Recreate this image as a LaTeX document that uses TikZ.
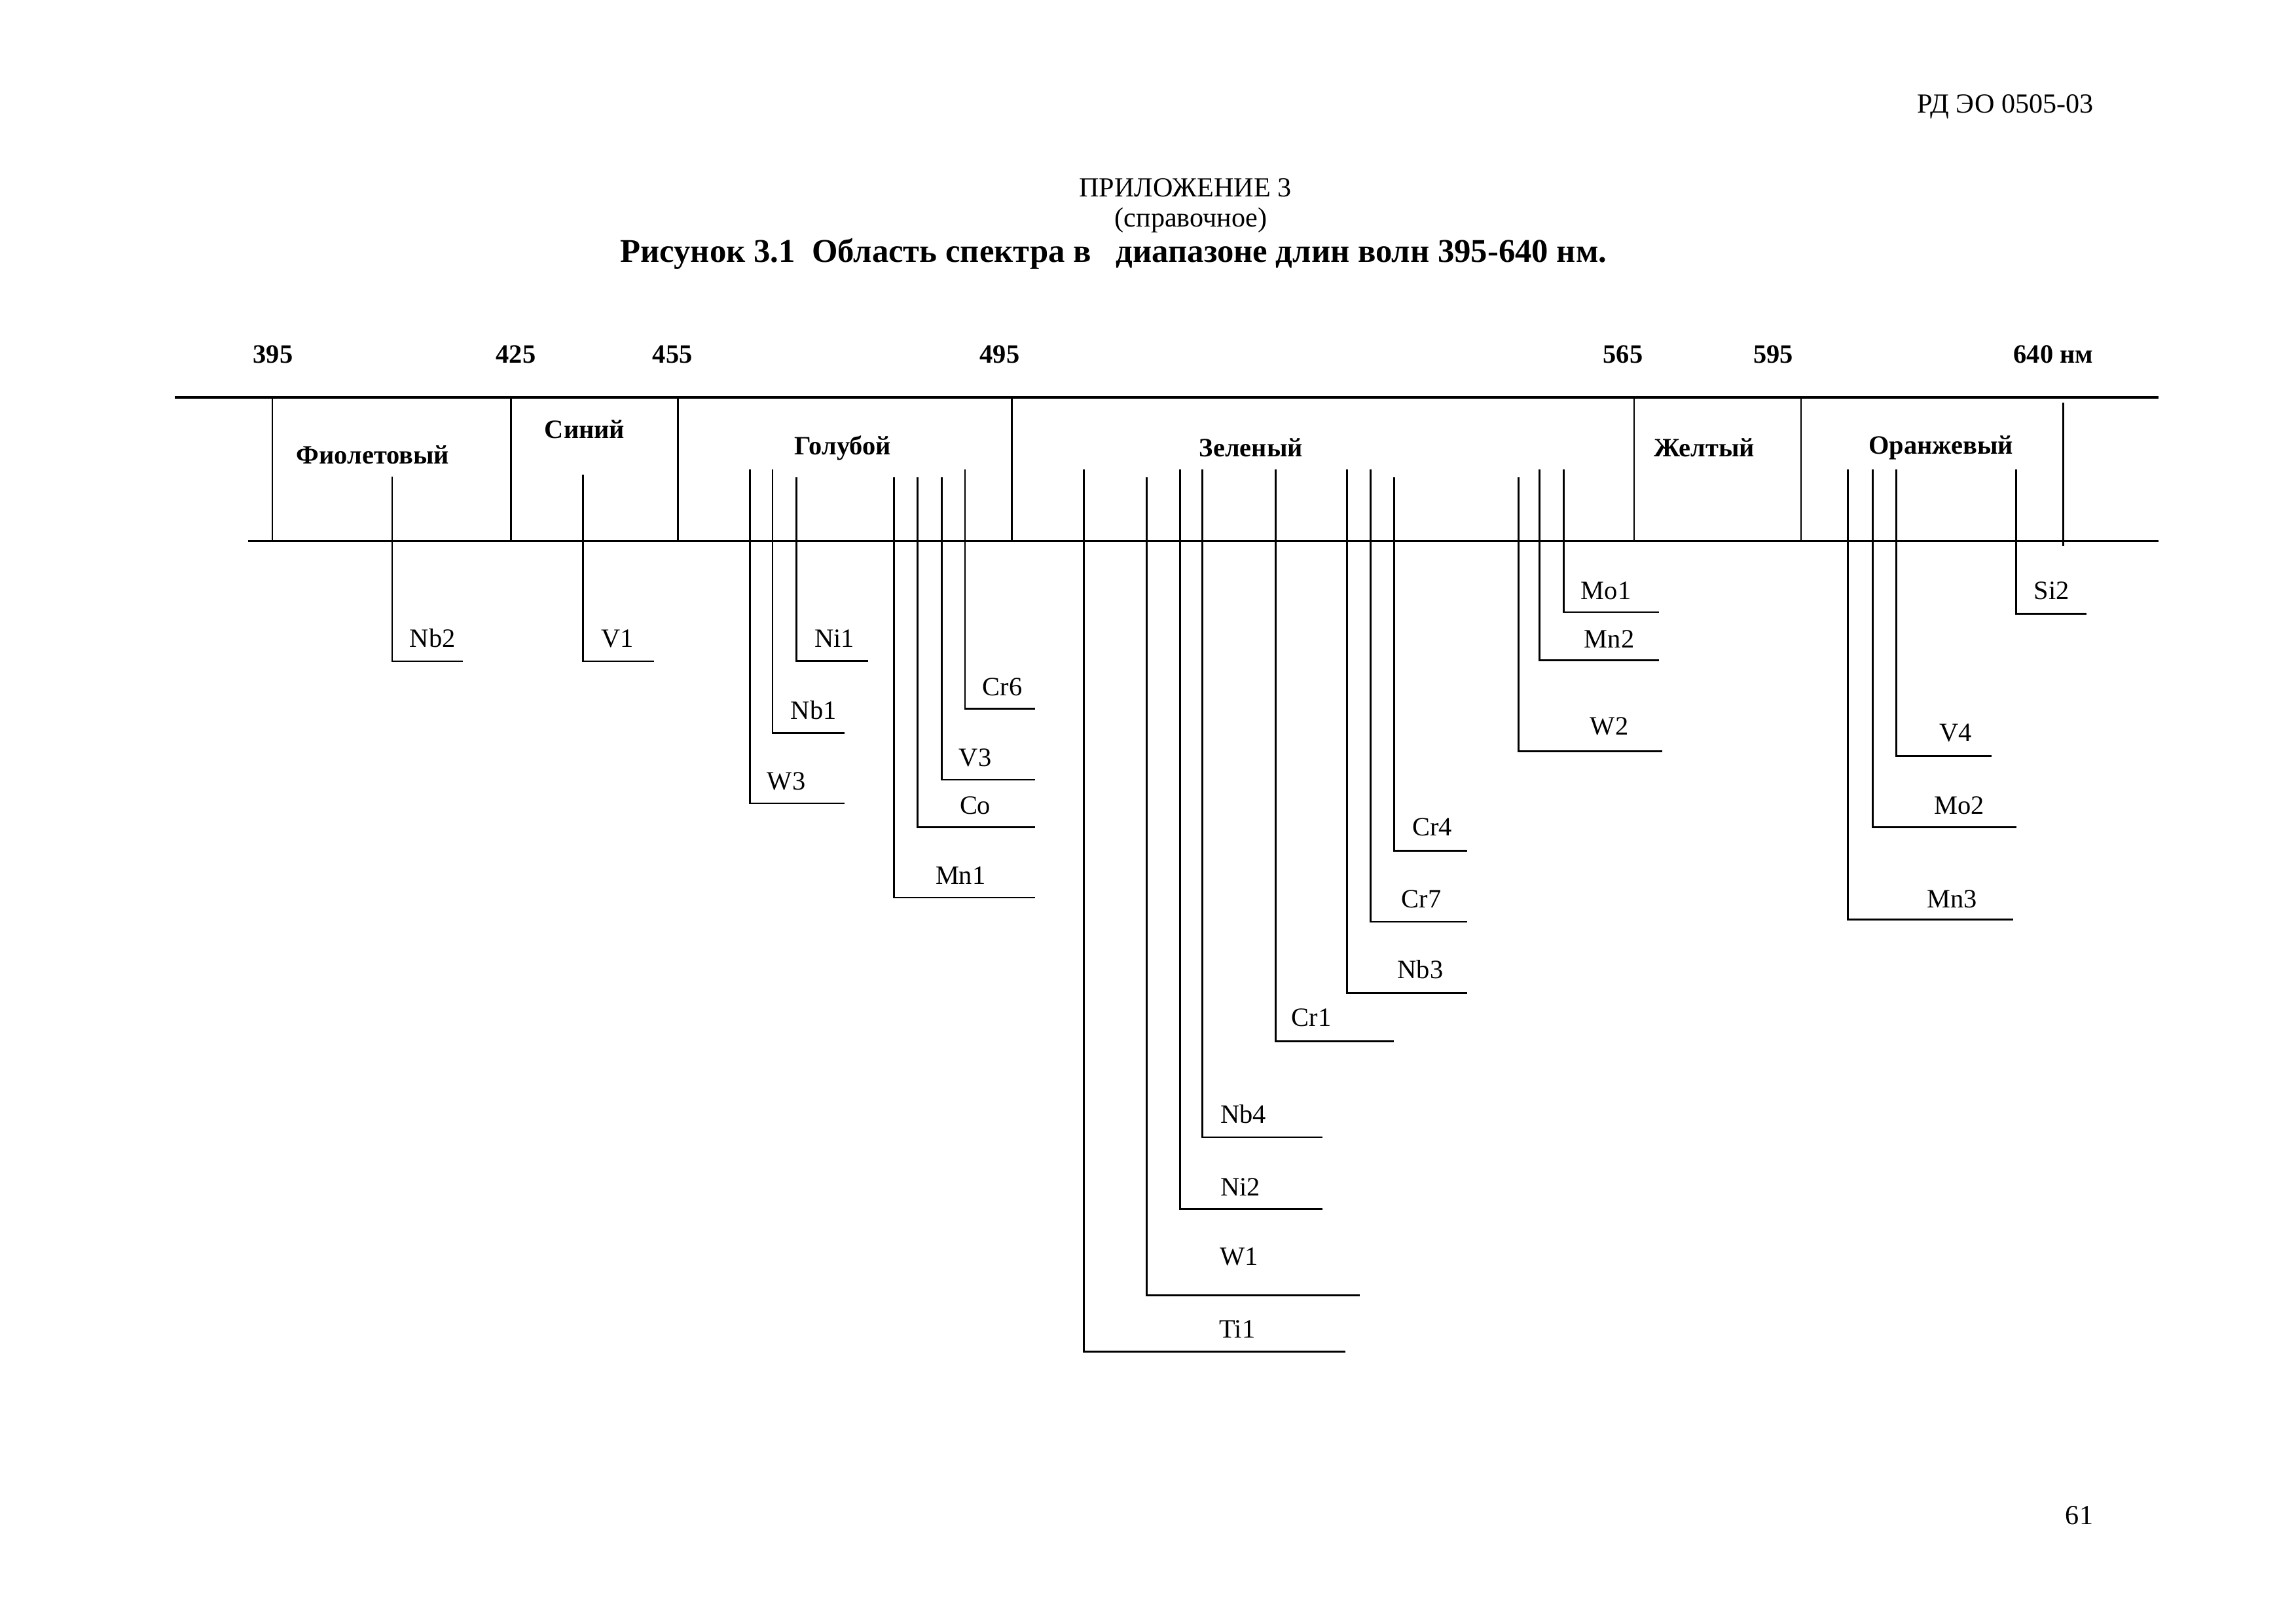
\documentclass[tikz,border=0pt]{standalone}
\usepackage{fontspec}
\setmainfont{Liberation Serif}
\begin{document}
\begin{tikzpicture}[x=0.022366cm,y=-0.022366cm,
  lbl/.style={font=\fontsize{11.5}{13}\selectfont, inner sep=0pt, anchor=center},
  num/.style={font=\fontsize{11.5}{13}\selectfont\bfseries, inner sep=0pt, anchor=center},
  band/.style={font=\fontsize{11.5}{13}\selectfont\bfseries, inner sep=0pt, anchor=center},
  hdr/.style={font=\fontsize{12}{14}\selectfont, inner sep=0pt, anchor=center},
  ttl/.style={font=\fontsize{14.43}{16}\selectfont\bfseries, inner sep=0pt, anchor=center},
  ln/.style={line width=0.8pt},
  topln/.style={line width=1.1pt},
  botln/.style={line width=0.7pt}]
\useasboundingbox (0,0) rectangle (1568,1108);

% header
\node[hdr, anchor=east] (doc) at (1430,73) {РД ЭО 0505-03};
\node[hdr] (app) at (809.4,128) {ПРИЛОЖЕНИЕ 3};
\node[hdr] (ref) at (813.4,150.5) {(справочное)};
\node[ttl] (title) at (760.5,173.5) {Рисунок 3.1~ Область спектра в~~ диапазоне длин волн 395-640 нм.};
\node[hdr] (page) at (1420,1035) {61};

% wavelength numbers
\node[num] (n395) at (186.4,242) {395};
\node[num] (n425) at (352.3,242) {425};
\node[num] (n455) at (459.3,242) {455};
\node[num] (n495) at (682.7,242) {495};
\node[num] (n565) at (1108.4,242) {565};
\node[num] (n595) at (1211,242) {595};
\node[num] (n640) at (1402.3,242) {640 нм};

% band lines
\coordinate (tl) at (119.5,271.5);
\coordinate (tr) at (1474,271.5);
\coordinate (bl) at (169.5,369.5);
\coordinate (br) at (1474,369.5);
\draw[topln] (tl) -- (tr);
\draw[botln] (bl) -- (br);
\foreach \x in {186,349,463,691,1116,1230}
  \draw[ln] (\x,271.5) -- (\x,369.5);
\draw[ln] (1409,275) -- (1409,373);

% band names
\node[band] (b1) at (254.6,310.8) {Фиолетовый};
\node[band] (b2) at (399.3,293) {Синий};
\node[band] (b3) at (575.6,306) {Голубой};
\node[band] (b4) at (854.4,305.8) {Зеленый};
\node[band] (b5) at (1164,305.8) {Желтый};
\node[band] (b6) at (1325.6,305.8) {Оранжевый};

% element lines
\foreach \x/\t/\b/\e/\l/\lx/\ly in {
  267.8/325.6/451.6/316/Nb2/295.4/436,
  398/324/451.6/446.7/V1/421.6/436,
  512/320.6/548.6/576.8/W3/537/533.8,
  527.6/320.6/500.4/576.8/Nb1/555.6/485,
  544/326/451.5/593/Ni1/569.8/436,
  610.6/326/613/707/Mn1/656/598,
  626.5/326/565/707/Co/666/550,
  643/326/532.5/707/V3/666/517.7,
  659/320.6/484/707/Cr6/684.6/469,
  740/320.6/923/919/Ti1/845/907.5,
  783/326/884.6/928.8/W1/846/858,
  806/320.6/825.4/903/Ni2/847/810.6,
  821/320.6/776.6/903/Nb4/849/761,
  871/320.6/711/952/Cr1/895.6/695,
  920/320.6/678/1002/Nb3/970/662,
  936/320.6/629.5/1002/Cr7/970.7/614,
  952/326/581/1002/Cr4/978/565,
  1037/326/513/1135/W2/1099/496,
  1051.5/320.6/451/1133/Mn2/1099/436.4,
  1068/320.6/418/1133/Mo1/1096.8/403.4,
  1262/320.6/628/1375/Mn3/1333/614,
  1279/320.6/565/1377/Mo2/1338/550,
  1295/320.6/516/1360/V4/1335.4/500.5,
  1377/320.6/419/1425/Si2/1401/403.4}
{
  \coordinate (t\l) at (\x,\t);
  \coordinate (c\l) at (\x,\b);
  \coordinate (e\l) at (\e,\b);
  \draw[ln] (t\l) -- (c\l) -- (e\l);
  \node[lbl] (lab\l) at (\lx,\ly) {\l};
}
\end{tikzpicture}
\end{document}
